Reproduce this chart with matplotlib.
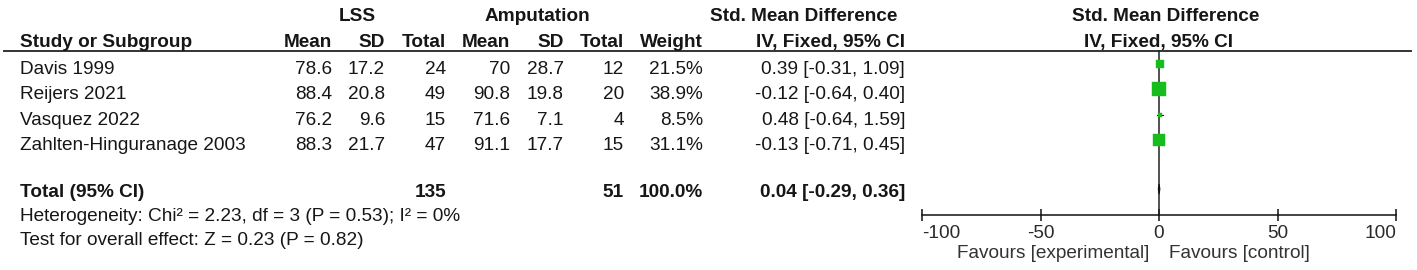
import matplotlib
matplotlib.use("Agg")
import matplotlib.pyplot as plt
from matplotlib.patches import Polygon

# ---------------- data ----------------
studies = ["Davis 1999", "Reijers 2021", "Vasquez 2022", "Zahlten-Hinguranage 2003"]
lss_mean = [78.6, 88.4, 76.2, 88.3]
lss_sd = [17.2, 20.8, 9.6, 21.7]
lss_n = [24, 49, 15, 47]
amp_mean = [70, 90.8, 71.6, 91.1]
amp_sd = [28.7, 19.8, 7.1, 17.7]
amp_n = [12, 20, 4, 15]
weights = [21.5, 38.9, 8.5, 31.1]
smd = [0.39, -0.12, 0.48, -0.13]
ci_lo = [-0.31, -0.64, -0.64, -0.71]
ci_hi = [1.09, 0.40, 1.59, 0.45]

total_lss_n = 135
total_amp_n = 51
total_weight = 100.0
pooled_smd = 0.04
pooled_lo = -0.29
pooled_hi = 0.36

heterogeneity_text = "Heterogeneity: Chi\u00b2 = 2.23, df = 3 (P = 0.53); I\u00b2 = 0%"
overall_text = "Test for overall effect: Z = 0.23 (P = 0.82)"
x_ticks = [-100, -50, 0, 50, 100]
x_limits = (-100, 100)
favours_left = "Favours [experimental]"
favours_right = "Favours [control]"

# ---------------- style ----------------
W, H = 1417, 270
DPI = 100
FS = 13.7
TXT = "#161616"
GREEN = "#16bd1c"
plt.rcParams["font.family"] = ["Liberation Sans", "DejaVu Sans"]

fig = plt.figure(figsize=(W / DPI, H / DPI), dpi=DPI)
fig.patch.set_facecolor("white")

# table axes in pixel coordinates
tab = fig.add_axes([0, 0, 1, 1])
tab.set_xlim(0, W)
tab.set_ylim(H, 0)
tab.axis("off")

# column right edges
c_name = 20
c_lm, c_lsd, c_ln = 332, 385, 446
c_am, c_asd, c_an = 510, 564, 624
c_w = 703
c_ci = 905

def t(x, y, s, ha="right", bold=False, color=TXT, size=FS):
    tab.text(x, y, s, ha=ha, va="baseline", fontsize=size,
             fontweight="bold" if bold else "normal", color=color)

# headers
hy1, hy2 = 21, 47
t(357, hy1, "LSS", ha="center", bold=True)
t(537, hy1, "Amputation", ha="center", bold=True)
t(804, hy1, "Std. Mean Difference", ha="center", bold=True)
t(1166, hy1, "Std. Mean Difference", ha="center", bold=True)
t(c_name, hy2, "Study or Subgroup", ha="left", bold=True)
for x, s in [(c_lm, "Mean"), (c_lsd, "SD"), (c_ln, "Total"),
             (c_am, "Mean"), (c_asd, "SD"), (c_an, "Total"), (c_w, "Weight"),
             (c_ci, "IV, Fixed, 95% CI")]:
    t(x, hy2, s, bold=True)
t(1158, hy2, "IV, Fixed, 95% CI", ha="center", bold=True)

header_line_y = 51
tab.plot([3, 1412], [header_line_y, header_line_y], color="#111111", lw=1.2,
         solid_capstyle="butt")

# study rows
row0, step = 74, 25.4
row_y = [row0 + i * step for i in range(len(studies))]
for i, name in enumerate(studies):
    y = row_y[i]
    t(c_name, y, name, ha="left")
    t(c_lm, y, f"{lss_mean[i]:g}")
    t(c_lsd, y, f"{lss_sd[i]:g}")
    t(c_ln, y, f"{lss_n[i]}")
    t(c_am, y, f"{amp_mean[i]:g}")
    t(c_asd, y, f"{amp_sd[i]:g}")
    t(c_an, y, f"{amp_n[i]}")
    t(c_w, y, f"{weights[i]:.1f}%")
    t(c_ci, y, f"{smd[i]:.2f} [{ci_lo[i]:.2f}, {ci_hi[i]:.2f}]")

total_y = 197
t(c_name, total_y, "Total (95% CI)", ha="left", bold=True)
t(c_ln, total_y, f"{total_lss_n}", bold=True)
t(c_an, total_y, f"{total_amp_n}", bold=True)
t(c_w, total_y, f"{total_weight:.1f}%", bold=True)
t(c_ci, total_y, f"{pooled_smd:.2f} [{pooled_lo:.2f}, {pooled_hi:.2f}]", bold=True)
t(c_name, 221, heterogeneity_text, ha="left")
t(c_name, 245, overall_text, ha="left")

# ---------------- forest plot ----------------
x0, x1 = 922, 1396
ax = fig.add_axes([x0 / W, 0, (x1 - x0) / W, 1])
ax.set_xlim(*x_limits)
ax.set_ylim(H, 0)
ax.patch.set_alpha(0)
for s in ["top", "left", "right"]:
    ax.spines[s].set_visible(False)
axis_y = 215
ax.spines["bottom"].set_position(("data", axis_y))
ax.spines["bottom"].set_linewidth(1.1)
ax.spines["bottom"].set_color("#111111")
ax.set_yticks([])
ax.set_xticks(x_ticks)
ax.set_xticklabels([f"{v}" for v in x_ticks])
ax.tick_params(axis="x", direction="inout", length=9, width=1.1, color="#111111",
               pad=3, labelsize=FS, labelcolor="#2a2a2a")
labels = ax.get_xticklabels()
labels[0].set_ha("left")
labels[-1].set_ha("right")

# zero line
ax.plot([0, 0], [header_line_y, axis_y], color="#222222", lw=1.1, zorder=2)

# squares and CIs
px_per_pt = DPI / 72.0
for i in range(len(studies)):
    y = row_y[i] - 10
    ax.plot([ci_lo[i], ci_hi[i]], [y, y], color="#111111", lw=0.8, zorder=3)
    side_px = 0.36 * weights[i]
    ax.plot([smd[i]], [y], marker="s", linestyle="none",
            markersize=side_px / px_per_pt, markerfacecolor=GREEN,
            markeredgecolor=GREEN, markeredgewidth=0.3, zorder=4)

# diamond
dy = total_y - 8
dh = 5
diamond = Polygon([(pooled_lo, dy), (pooled_smd, dy - dh), (pooled_hi, dy),
                   (pooled_smd, dy + dh)], closed=True, facecolor="#111111",
                  edgecolor="#111111", lw=0.8, zorder=5)
ax.add_patch(diamond)

# favours labels
fav_y = 258
ax.annotate(favours_left, xy=(0, fav_y), xytext=(-10, 0), textcoords="offset pixels",
            ha="right", va="baseline", fontsize=FS, color="#333333",
            annotation_clip=False)
ax.annotate(favours_right, xy=(0, fav_y), xytext=(10, 0), textcoords="offset pixels",
            ha="left", va="baseline", fontsize=FS, color="#333333",
            annotation_clip=False)

fig.savefig("out.png", dpi=DPI, facecolor="white")
